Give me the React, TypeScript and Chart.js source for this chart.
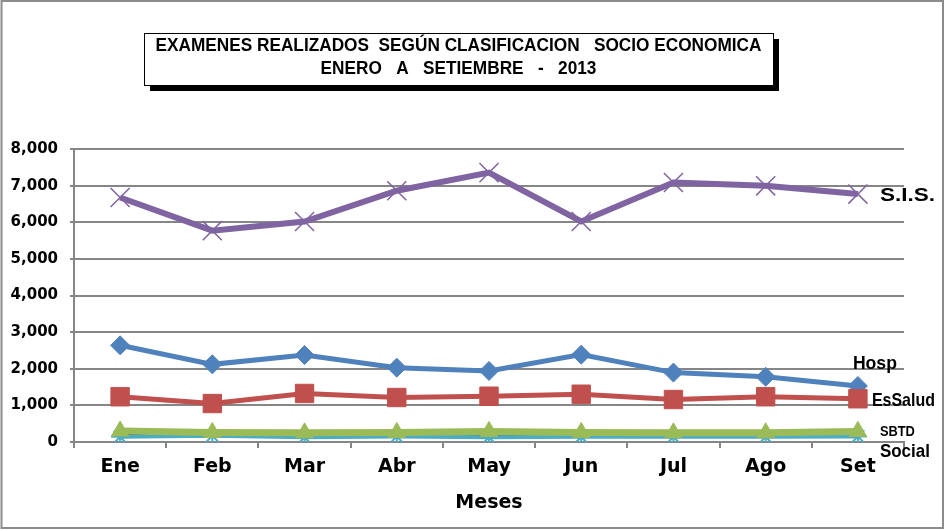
import React, { useEffect, useRef } from "react";
import { Chart, registerables } from "chart.js";

Chart.register(...registerables);

const months = ["Ene", "Feb", "Mar", "Abr", "May", "Jun", "Jul", "Ago", "Set"];
const hosp = [2640, 2120, 2375, 2030, 1940, 2385, 1895, 1780, 1530];
const esSalud = [1235, 1050, 1325, 1215, 1250, 1305, 1160, 1235, 1180];
const sbtd = [300, 260, 250, 260, 290, 260, 250, 250, 290];
const sis = [6675, 5770, 6020, 6860, 7355, 6020, 7085, 6995, 6770];
const social = [140, 170, 130, 150, 130, 140, 140, 140, 150];
const otros = [200, 200, 190, 190, 180, 180, 175, 170, 165];
const yTicks = [0, 1000, 2000, 3000, 4000, 5000, 6000, 7000, 8000];
const titleLines = [
  "EXAMENES REALIZADOS  SEGÚN CLASIFICACION   SOCIO ECONOMICA",
  "ENERO   A   SETIEMBRE   -   2013",
];

const W = 945;
const H = 531;
const FONT = "'Liberation Sans Narrow', 'Liberation Sans', Arial, sans-serif";

function fitText(ctx: any, text: string, x: number, y: number, size: number, width: number, align: string) {
  ctx.save();
  ctx.font = `bold ${size}px ${FONT}`;
  const m = ctx.measureText(text).width;
  const s = width / m;
  ctx.translate(x, y);
  ctx.scale(s, 1);
  ctx.textAlign = align;
  ctx.textBaseline = "middle";
  ctx.fillText(text, 0, 0);
  ctx.restore();
}

const decorPlugin = {
  id: "decor",
  beforeDraw(chart: any) {
    const ctx = chart.ctx;
    ctx.save();
    ctx.fillStyle = "#ffffff";
    ctx.fillRect(0, 0, W, H);
    ctx.restore();
  },
  afterDraw(chart: any) {
    const ctx = chart.ctx;
    ctx.save();
    ctx.strokeStyle = "#8c8c8c";
    ctx.lineWidth = 2;
    ctx.strokeRect(1.5, 1, 941.5, 527);
    const bx = 144, by = 33, bw = 629, bh = 52;
    ctx.fillStyle = "#000000";
    ctx.fillRect(bx + 6, by + 6, bw, bh);
    ctx.fillStyle = "#ffffff";
    ctx.fillRect(bx, by, bw, bh);
    ctx.strokeStyle = "#000000";
    ctx.lineWidth = 1;
    ctx.strokeRect(bx + 0.5, by + 0.5, bw, bh);
    ctx.fillStyle = "#000000";
    const cx = bx + bw / 2;
    ctx.font = `bold 18px ${FONT}`;
    const m1 = ctx.measureText(titleLines[0]).width;
    const m2 = ctx.measureText(titleLines[1]).width;
    const s = 606 / m1;
    fitText(ctx, titleLines[0], cx, by + 13, 18, 606, "center");
    fitText(ctx, titleLines[1], cx, by + 36, 18, m2 * s, "center");

    const ys = chart.scales.y;
    const xs = chart.scales.x;
    const lastX = xs.getPixelForValue(months.length - 1);
    ctx.fillStyle = "#000000";
    fitText(ctx, "S.I.S.", lastX + 22, ys.getPixelForValue(sis[8]) + 2, 18, 55, "left");
    fitText(ctx, "Hosp", lastX - 5, ys.getPixelForValue(hosp[8]) - 22, 19, 44, "left");
    fitText(ctx, "EsSalud", lastX + 14, ys.getPixelForValue(esSalud[8]) + 2, 19, 63, "left");
    fitText(ctx, "SBTD", lastX + 22, ys.getPixelForValue(sbtd[8]) + 1, 14, 35, "left");
    fitText(ctx, "Social", lastX + 22, ys.getPixelForValue(0) + 10, 19, 50, "left");
    ctx.restore();
  },
};

export default function App() {
  const ref = useRef<HTMLCanvasElement | null>(null);
  useEffect(() => {
    if (!ref.current) return;
    const chart = new Chart(ref.current, {
      type: "line",
      data: {
        labels: months,
        datasets: [
          {
            label: "SBTD",
            data: sbtd,
            borderColor: "#9BBB59",
            backgroundColor: "#9BBB59",
            borderWidth: 7,
            pointStyle: "triangle",
            pointRadius: 10,
            pointBorderWidth: 1,
            tension: 0,
          },
          {
            label: "Social",
            data: social,
            borderColor: "#4BACC6",
            backgroundColor: "#4BACC6",
            borderWidth: 4,
            pointStyle: "star",
            pointRadius: 9,
            pointBorderWidth: 2,
            tension: 0,
          },
          {
            label: "Otros",
            data: otros,
            borderColor: "#000000",
            backgroundColor: "#000000",
            borderWidth: 3,
            pointRadius: 0,
            tension: 0,
          },
          {
            label: "EsSalud",
            data: esSalud,
            borderColor: "#C0504D",
            backgroundColor: "#C0504D",
            borderWidth: 5,
            pointStyle: "rect",
            pointRadius: 13,
            pointBorderWidth: 1,
            tension: 0,
          },
          {
            label: "Hosp",
            data: hosp,
            borderColor: "#4F81BD",
            backgroundColor: "#4F81BD",
            borderWidth: 5,
            pointStyle: "rectRot",
            pointRadius: 9.5,
            pointBorderWidth: 1,
            tension: 0,
          },
          {
            label: "S.I.S.",
            data: sis,
            borderColor: "#8064A2",
            backgroundColor: "#8064A2",
            borderWidth: 6,
            pointStyle: "crossRot",
            pointRadius: 13.5,
            pointBorderWidth: 1.5,
            tension: 0,
          },
        ],
      },
      options: {
        responsive: false,
        animation: false,
        layout: { padding: { left: 0, top: 149, right: 41, bottom: 13 } },
        plugins: {
          legend: { display: false },
          title: { display: false },
          tooltip: { enabled: false },
        },
        scales: {
          x: {
            type: "category",
            offset: true,
            grid: {
              offset: true,
              drawOnChartArea: false,
              drawTicks: true,
              tickLength: 6,
              color: "#868686",
              lineWidth: 2,
            },
            border: { color: "#868686", width: 2 },
            ticks: {
              color: "#000000",
              padding: 8,
              font: { family: "'DejaVu Sans', Verdana, sans-serif", size: 19, weight: "bold" },
            },
            title: {
              display: true,
              text: "Meses",
              color: "#000000",
              padding: { top: 4, bottom: 4 },
              font: { family: "'DejaVu Sans', Verdana, sans-serif", size: 19, weight: "bold" },
            },
            afterFit(scale: any) {
              scale.height = 76;
            },
          },
          y: {
            min: 0,
            max: 8000,
            afterBuildTicks(scale: any) {
              scale.ticks = yTicks.map((v) => ({ value: v }));
            },
            grid: {
              color: "#868686",
              lineWidth: 2,
              drawTicks: true,
              tickLength: 4,
            },
            border: { color: "#868686", width: 2 },
            ticks: {
              color: "#000000",
              padding: 12,
              font: { family: "'DejaVu Sans', Verdana, sans-serif", size: 15, weight: "bold" },
              callback: (v: any) => Number(v).toLocaleString("en-US"),
            },
            afterFit(scale: any) {
              scale.width = 74;
            },
          },
        },
      },
      plugins: [decorPlugin],
    } as any);
    return () => chart.destroy();
  }, []);
  return (
    <div style={{ position: "fixed", left: 0, top: 0, width: W, height: H, background: "#fff" }}>
      <canvas ref={ref} width={W} height={H} style={{ display: "block", width: W, height: H }} />
    </div>
  );
}
